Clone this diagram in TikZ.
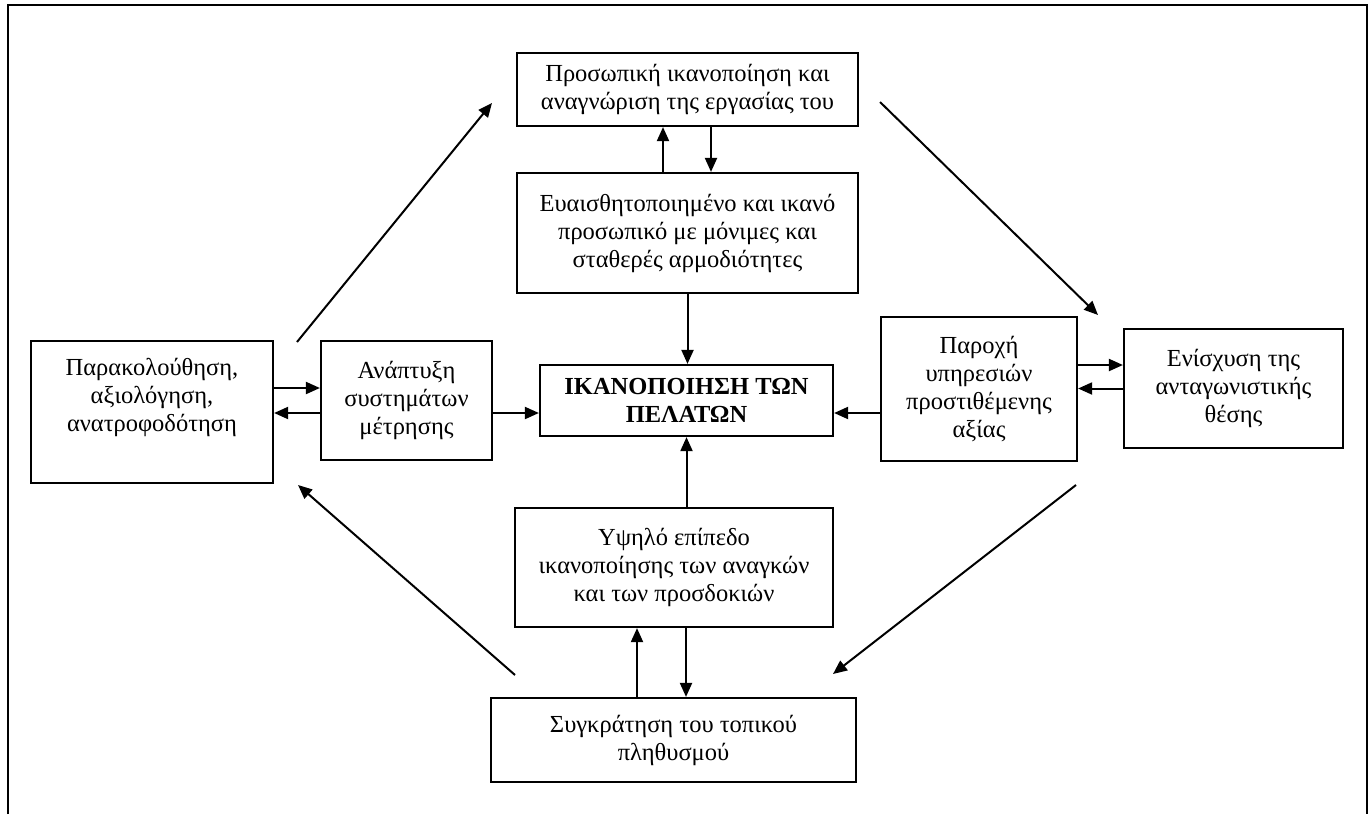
\documentclass[tikz,border=0pt]{standalone}
\usepackage{fontspec}
\setmainfont{Liberation Serif}
\usetikzlibrary{arrows.meta}
\begin{document}
\begin{tikzpicture}[x=1pt,y=-1pt,
  box/.style={draw, line width=2.2pt, inner sep=0pt, align=center},
  txt/.style={inner sep=0pt, align=center},
  arr/.style={line width=2pt, -{Triangle[length=14pt,width=12pt]}},
  frame/.style={line width=2.6pt}]
\useasboundingbox (0,0) rectangle (1370,814);
\fontsize{24.5}{28}\selectfont

% outer frame, open at the bottom
\draw[frame] (8,814) -- (8,5) -- (1367,5) -- (1367,814);

% boxes
\node[box, minimum width=341pt, minimum height=73pt] (P) at (687.5,89.5)
  {Προσωπική ικανοποίηση και\\αναγνώριση της εργασίας του};
\node[box, minimum width=341pt, minimum height=120pt] (E) at (687.5,233)
  {Ευαισθητοποιημένο και ικανό\\προσωπικό με μόνιμες και\\σταθερές αρμοδιότητες};
\node[box, minimum width=242pt, minimum height=142pt] (L) at (152,412) {};
\node[txt] (Lt) at (152,397) {Παρακολούθηση,\\αξιολόγηση,\\ανατροφοδότηση};
\node[box, minimum width=171pt, minimum height=119pt] (A) at (406.5,400.5)
  {Ανάπτυξη\\συστημάτων\\μέτρησης};
\node[box, minimum width=293pt, minimum height=71pt, font=\bfseries] (C) at (686.5,400.5)
  {ΙΚΑΝΟΠΟΙΗΣΗ ΤΩΝ\\ΠΕΛΑΤΩΝ};
\node[box, minimum width=196pt, minimum height=144pt] (V) at (979,389)
  {Παροχή\\υπηρεσιών\\προστιθέμενης\\αξίας};
\node[box, minimum width=219pt, minimum height=119pt] (R) at (1233.5,388.5)
  {Ενίσχυση της\\ανταγωνιστικής\\θέσης};
\node[box, minimum width=318pt, minimum height=119pt] (Y) at (674,567.5)
  {Υψηλό επίπεδο\\ικανοποίησης των αναγκών\\και των προσδοκιών};
\node[box, minimum width=365pt, minimum height=84pt] (S) at (673.5,740)
  {Συγκράτηση του τοπικού\\πληθυσμού};

% short links between neighbouring boxes
\draw[arr] ([xshift=-24.5pt]P.south |- E.north) -- ([xshift=-24.5pt]P.south);
\draw[arr] ([xshift=23.5pt]P.south) -- ([xshift=23.5pt]P.south |- E.north);
\draw[arr] (E.south) -- (E.south |- C.north);

\coordinate (la) at ([yshift=12.5pt]A.west);
\coordinate (lb) at ([yshift=-12.5pt]A.west);
\draw[arr] (L.east |- la) -- (la);
\draw[arr] (lb) -- (L.east |- lb);

\coordinate (ca) at ([yshift=-12.5pt]C.west);
\coordinate (cb) at ([yshift=-12.5pt]C.east);
\draw[arr] (A.east |- ca) -- (ca);
\draw[arr] (V.west |- cb) -- (cb);

\coordinate (ra) at ([yshift=23.5pt]R.west);
\coordinate (rb) at (R.west);
\draw[arr] (V.east |- ra) -- (ra);
\draw[arr] (rb) -- (V.east |- rb);

\draw[arr] (C.south |- Y.north) -- (C.south);

\coordinate (sa) at ([xshift=-36.5pt]S.north);
\coordinate (sb) at ([xshift=12.5pt]S.north);
\draw[arr] (sa) -- (sa |- Y.south);
\draw[arr] (sb |- Y.south) -- (sb);

% outer loop of diagonal arrows
\coordinate (d1s) at (297,342);  \coordinate (d1e) at (492,103);
\coordinate (d2s) at (880,102);  \coordinate (d2e) at (1098,315);
\coordinate (d3s) at (1076,485); \coordinate (d3e) at (833,674);
\coordinate (d4s) at (515,675);  \coordinate (d4e) at (298,485);
\draw[arr] (d1s) -- (d1e);
\draw[arr] (d2s) -- (d2e);
\draw[arr] (d3s) -- (d3e);
\draw[arr] (d4s) -- (d4e);
\end{tikzpicture}
\end{document}
